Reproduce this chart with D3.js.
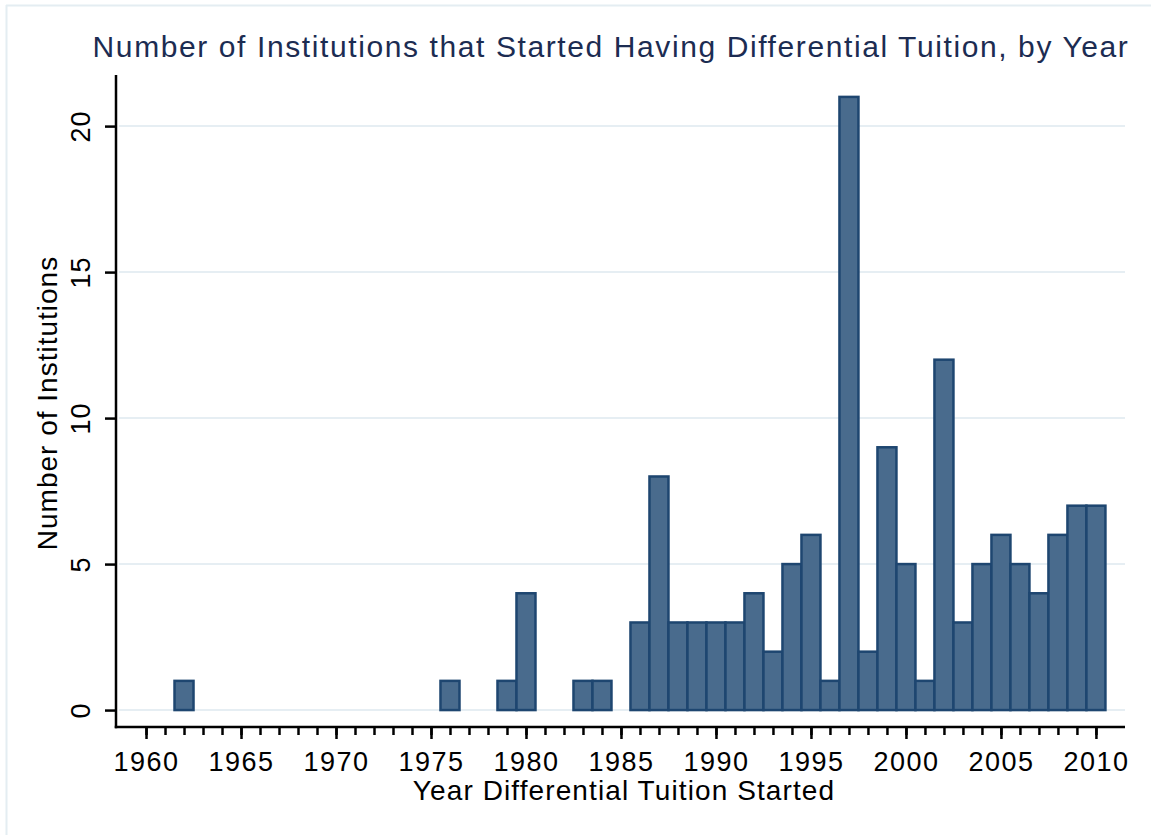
<!DOCTYPE html>
<html>
<head>
<meta charset="utf-8">
<script src="https://cdn.jsdelivr.net/npm/d3@7"></script>
<style>
  body { margin: 0; background: #fff; }
  text { font-family: "Liberation Sans", Arial, Helvetica, sans-serif; }
</style>
</head>
<body>
<div id="chart"></div>
<script>
// data
var years  = [1962, 1976, 1979, 1980, 1983, 1984, 1986, 1987, 1988, 1989, 1990, 1991, 1992,
              1993, 1994, 1995, 1996, 1997, 1998, 1999, 2000, 2001, 2002, 2003, 2004, 2005,
              2006, 2007, 2008, 2009, 2010];
var counts = [1, 1, 1, 4, 1, 1, 3, 8, 3, 3, 3, 3, 4,
              2, 5, 6, 1, 21, 2, 9, 5, 1, 12, 3, 5, 6,
              5, 4, 6, 7, 7];
var xTicks = [1960, 1965, 1970, 1975, 1980, 1985, 1990, 1995, 2000, 2005, 2010];
var xMinor = d3.range(1960, 2011);
var yTicks = [0, 5, 10, 15, 20];

var width = 1151, height = 835;
var axisLeft = 116, axisRight = 1125, axisBottom = 727, axisTop = 75;

var svg = d3.select("#chart")
    .append("svg")
    .attr("width", width)
    .attr("height", height);

// faint outer frame (only top and left edges show)
svg.append("line")
    .attr("x1", 6).attr("x2", width).attr("y1", 5.5).attr("y2", 5.5)
    .style("stroke", "#e4edf2").style("stroke-width", "2px");
svg.append("line")
    .attr("x1", 6.5).attr("x2", 6.5).attr("y1", 5).attr("y2", height)
    .style("stroke", "#e4edf2").style("stroke-width", "2px");

var x = d3.scaleLinear()
    .domain([1958.42, 2011.53])
    .range([axisLeft, axisRight]);

var y = d3.scaleLinear()
    .domain([-0.58, 21.75])
    .range([axisBottom, axisTop]);

// horizontal grid lines
svg.selectAll(".grid")
    .data(yTicks)
    .enter().append("line")
    .attr("x1", axisLeft + 3)
    .attr("x2", axisRight)
    .attr("y1", function (d) { return y(d); })
    .attr("y2", function (d) { return y(d); })
    .style("stroke", "#e6eef3")
    .style("stroke-width", "2px");

// bars, one year wide and centred on the year
var barW = x(1) - x(0);
svg.selectAll(".bar")
    .data(years)
    .enter().append("rect")
    .attr("x", function (d) { return x(d) - barW / 2; })
    .attr("y", function (d, i) { return y(counts[i]); })
    .attr("width", barW)
    .attr("height", function (d, i) { return y(0) - y(counts[i]); })
    .style("fill", "#496b8d")
    .style("stroke", "#1e4670")
    .style("stroke-width", "2.5px");

// y axis
var yAxis = d3.axisLeft(y)
    .tickValues(yTicks)
    .tickSize(11)
    .tickPadding(0)
    .tickFormat(d3.format("d"));

var gy = svg.append("g")
    .attr("transform", "translate(" + axisLeft + ",0)")
    .call(yAxis);
gy.select(".domain").remove();
gy.selectAll(".tick line").style("stroke", "#000").style("stroke-width", "2.5px");
gy.selectAll(".tick text")
    .attr("transform", "translate(-26,0) rotate(-90)")
    .attr("x", 0).attr("y", 0).attr("dy", 0)
    .attr("text-anchor", "middle")
    .style("font-size", "27px")
    .style("letter-spacing", "1px")
    .style("fill", "#000");

svg.append("line")
    .attr("x1", axisLeft).attr("x2", axisLeft)
    .attr("y1", axisTop).attr("y2", axisBottom + 1.25)
    .style("stroke", "#000").style("stroke-width", "2.5px");

// x axis: minor ticks every year, labelled every 5
var gxMinor = svg.append("g")
    .attr("transform", "translate(0," + axisBottom + ")")
    .call(d3.axisBottom(x).tickValues(xMinor).tickSize(8).tickFormat(""));
gxMinor.select(".domain").remove();
gxMinor.selectAll(".tick line").style("stroke", "#000").style("stroke-width", "2.5px");

var gx = svg.append("g")
    .attr("transform", "translate(0," + axisBottom + ")")
    .call(d3.axisBottom(x).tickValues(xTicks).tickSize(12).tickPadding(10).tickFormat(d3.format("d")));
gx.select(".domain").remove();
gx.selectAll(".tick line").style("stroke", "#000").style("stroke-width", "2.5px");
gx.selectAll(".tick text")
    .attr("y", 44).attr("dy", 0)
    .style("font-size", "27px")
    .style("letter-spacing", "1.5px")
    .style("fill", "#000");

svg.append("line")
    .attr("x1", axisLeft - 1.25).attr("x2", axisRight)
    .attr("y1", axisBottom).attr("y2", axisBottom)
    .style("stroke", "#000").style("stroke-width", "2.5px");

// titles
svg.append("text")
    .attr("x", 611)
    .attr("y", 57)
    .attr("text-anchor", "middle")
    .style("font-size", "30px")
    .style("letter-spacing", "1.6px")
    .style("fill", "#1c2c52")
    .text("Number of Institutions that Started Having Differential Tuition, by Year");

svg.append("text")
    .attr("x", 624)
    .attr("y", 800)
    .attr("text-anchor", "middle")
    .style("font-size", "28px")
    .style("letter-spacing", "1.1px")
    .style("fill", "#000")
    .text("Year Differential Tuition Started");

svg.append("text")
    .attr("transform", "translate(57,403) rotate(-90)")
    .attr("text-anchor", "middle")
    .style("font-size", "28px")
    .style("letter-spacing", "1px")
    .style("fill", "#000")
    .text("Number of Institutions");
</script>
</body>
</html>
